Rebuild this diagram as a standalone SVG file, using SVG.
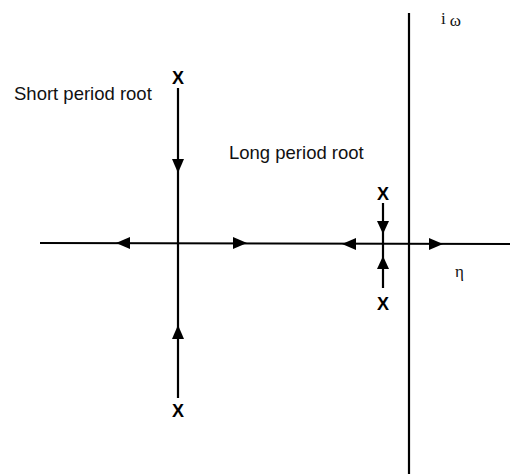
<svg xmlns="http://www.w3.org/2000/svg" width="510" height="474" viewBox="0 0 510 474">
<style>
.ax{stroke:#000;stroke-width:2.2;fill:none}
.lbl{font-family:"Liberation Sans",Arial,sans-serif;font-size:18.5px;fill:#111}
.x{font-family:"Liberation Sans",Arial,sans-serif;font-size:18px;font-weight:bold;fill:#000;text-anchor:middle}
.gr{font-family:"Liberation Serif","DejaVu Serif",serif;font-size:17px;fill:#111}
.ah{fill:#000}
</style>
<rect width="510" height="474" fill="#fff"/>
<g id="connectors">
<line class="ax" x1="40" y1="243" x2="510" y2="244"/>
<line class="ax" x1="409" y1="13" x2="409" y2="474" stroke-width="2.8"/>
<line class="ax" x1="178" y1="88" x2="178" y2="398"/>
<line class="ax" x1="383" y1="203" x2="383" y2="288"/>
<polygon class="ah" points="172,159 184,159 178,173"/>
<polygon class="ah" points="172,339 184,339 178,325"/>
<polygon class="ah" points="130,237 130,249 116,243"/>
<polygon class="ah" points="233,237 233,249 247,243"/>
<polygon class="ah" points="377,221 389,221 383,234"/>
<polygon class="ah" points="377,269 389,269 383,256"/>
<polygon class="ah" points="356,238 356,250 342,244"/>
<polygon class="ah" points="429,238 429,250 443,244"/>
</g>
<g id="short-period-label"><text class="lbl" x="14" y="100">Short period root</text></g>
<g id="long-period-label"><text class="lbl" x="229" y="159">Long period root</text></g>
<g id="sp-top"><text class="x" x="178" y="84">X</text></g>
<g id="sp-bottom"><text class="x" x="178" y="417">X</text></g>
<g id="lp-top"><text class="x" x="383" y="200">X</text></g>
<g id="lp-bottom"><text class="x" x="383" y="310">X</text></g>
<g id="axis-im"><text class="gr" x="441" y="24">i<tspan dx="4" dy="2">ω</tspan></text></g>
<g id="axis-re"><text class="gr" x="455" y="277">η</text></g>
</svg>
